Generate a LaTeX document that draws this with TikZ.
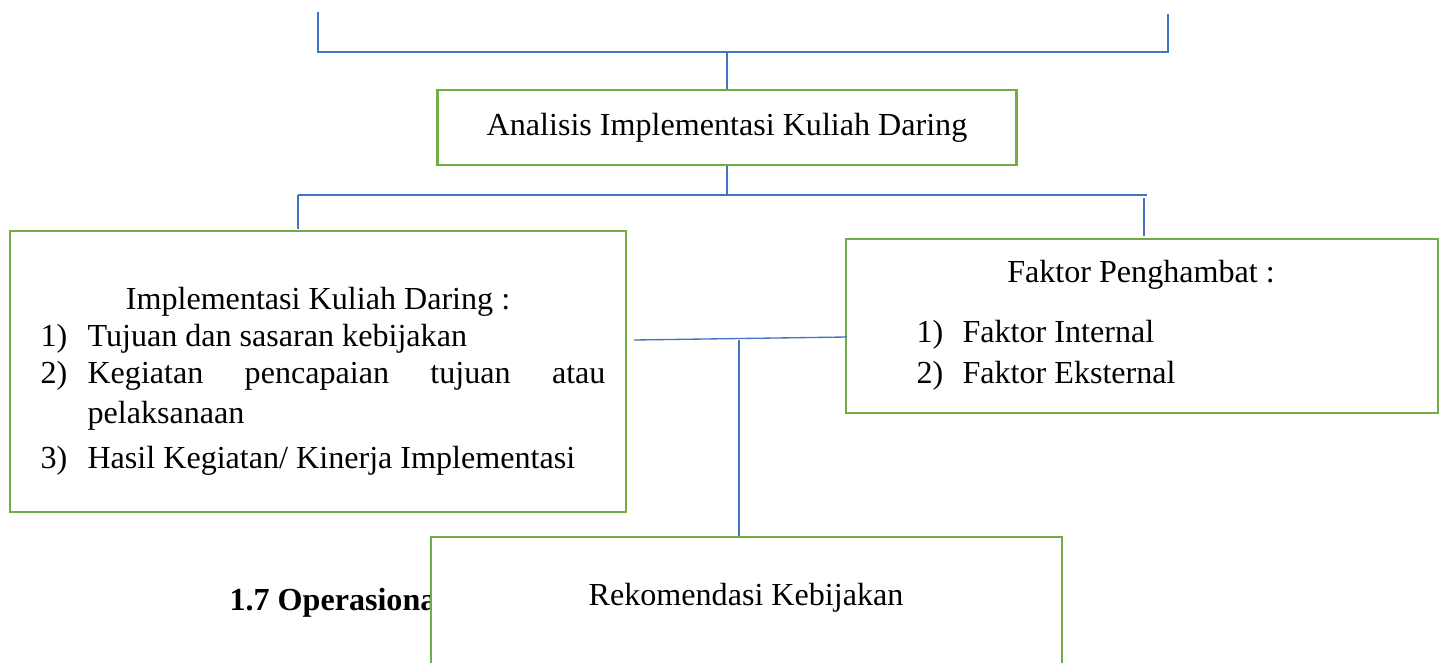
\documentclass[tikz,border=0pt]{standalone}
\usepackage{fontspec}
\setmainfont{Liberation Serif}
\usepackage{xcolor}
\usepackage{tikz}
\definecolor{boxgreen}{HTML}{70AD47}
\definecolor{lineblue}{HTML}{4472C4}

\begin{document}
\begin{tikzpicture}[x=0.3738pt, y=-0.3738pt,
        every node/.style={font=\fontsize{12pt}{14pt}\selectfont, inner sep=0pt},
        gbox/.style={draw=boxgreen, line width=1pt, fill=white},
        bline/.style={draw=lineblue, line width=0.5pt}]
        \useasboundingbox (0, 0) rectangle (1442, 663);

        \coordinate (tl) at (318, 12);
        \coordinate (tr) at (1168, 14);
        \coordinate (tm) at (727, 52);
        \coordinate (ml) at (298, 195);
        \coordinate (mr) at (1147, 195);
        \coordinate (mm) at (727, 195);
        \coordinate (dl) at (298, 229);
        \coordinate (dr0) at (1144, 198);
        \coordinate (dr) at (1144, 236);
        \coordinate (cl) at (634, 340);
        \coordinate (cr) at (847, 337);
        \coordinate (cm) at (739, 339.5);

        \node[gbox, minimum width=216.4pt, minimum height=28pt] (analisis) at (727, 127.5)
            {Analisis Implementasi Kuliah Daring};
        \node[gbox, minimum width=230.3pt, minimum height=105pt] (impl) at (318, 371.5) {};
        \node[gbox, minimum width=221.3pt, minimum height=65pt] (faktor) at (1142, 326) {};

        \draw[bline] (tl) |- (tm) -| (tr);
        \draw[bline] (tm) -- (analisis.north);
        \draw[bline] (analisis.south) -- (mm);
        \draw[bline] (ml) -- (mr);
        \draw[bline] (ml) -- (dl);
        \draw[bline] (dr0) -- (dr);
        \draw[bline] (cl) -- (cr);

        \node[anchor=base] (impltitle) at (318, 309) {Implementasi Kuliah Daring :};
        \node[anchor=base west] (n1) at (40, 346) {1)};
        \node[anchor=base west] (i1) at (87, 346) {Tujuan dan sasaran kebijakan};
        \node[anchor=base west] (n2) at (40, 383) {2)};
        \node[anchor=base west] (i2) at (87, 383)
            {\makebox[193.6pt][s]{Kegiatan pencapaian tujuan atau}};
        \node[anchor=base west] (i2b) at (87, 423) {pelaksanaan};
        \node[anchor=base west] (n3) at (40, 468) {3)};
        \node[anchor=base west] (i3) at (87, 468) {Hasil Kegiatan/ Kinerja Implementasi};

        \node[anchor=base] (faktortitle) at (1141, 282) {Faktor Penghambat :};
        \node[anchor=base west] (f1n) at (916, 342) {1)};
        \node[anchor=base west] (f1) at (962, 342) {Faktor Internal};
        \node[anchor=base west] (f2n) at (916, 383) {2)};
        \node[anchor=base west] (f2) at (962, 383) {Faktor Eksternal};

        \node[anchor=base west, font=\fontsize{12pt}{14pt}\selectfont\bfseries] (heading) at (229, 610)
            {1.7 Operasiona};
        \node[gbox, minimum width=235.9pt, minimum height=74.8pt] (rekom) at (746.5, 637) {};
        \node[anchor=base] (rekomtext) at (746, 605) {Rekomendasi Kebijakan};
        \draw[bline] (cm) -- (cm |- rekom.north);
    \end{tikzpicture}
\end{document}
